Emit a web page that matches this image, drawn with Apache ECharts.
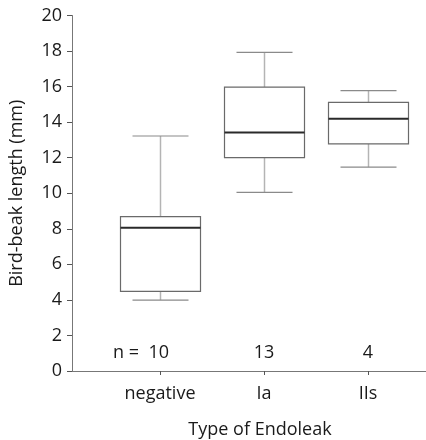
<!DOCTYPE html>
<html>
<head>
<meta charset="utf-8">
<script src="https://cdn.jsdelivr.net/npm/echarts@6/dist/echarts.min.js"></script>
<style>
  html, body { margin: 0; padding: 0; background: #fff; }
  #main { width: 426px; height: 440px; }
</style>
</head>
<body>
<div id="main"></div>
<script>
// 数据：每组的五数概括
var categories = ['negative', 'Ia', 'IIs']
var counts = [10, 13, 4]
var mins = [3.99, 10.05, 11.47]
var q1s = [4.48, 12.0, 12.78]
var medians = [8.06, 13.42, 14.19]
var q3s = [8.68, 15.97, 15.11]
var maxs = [13.22, 17.92, 15.77]
var yTicks = [0, 20, 2] // min, max, interval

var font = 'Open Sans'

// 组织 custom series 数据 [x, min, q1, median, q3, max]
var boxData = []
var nData = []
for (var i = 0; i < categories.length; i++) {
  boxData.push([i + 1, mins[i], q1s[i], medians[i], q3s[i], maxs[i]])
  nData.push({
    value: [i + 1, 1],
    label: i === 0 ? { formatter: 'n =  ' + counts[i], align: 'right', offset: [9, 0] } : { formatter: String(counts[i]) }
  })
}

var myChart = echarts.init(document.getElementById('main'))

var option = {
  animation: false,
  backgroundColor: '#fff',
  textStyle: { fontFamily: font },
  grid: { left: 72, right: 0, top: 15.5, bottom: 69, outerBoundsMode: 'none', containLabel: false },
  xAxis: {
    type: 'value',
    min: 1 - 88 / 104,
    max: 1 + 266 / 104,
    name: 'Type of Endoleak',
    nameLocation: 'middle',
    nameGap: 50,
    nameTextStyle: { fontSize: 18, color: '#1a1a1a', fontFamily: font, padding: [0, 0, 0, 22] },
    splitLine: { show: false },
    axisLine: { lineStyle: { color: '#777', width: 1 } },
    axisTick: { customValues: [1, 2, 3], length: 4, lineStyle: { color: '#555' } },
    axisLabel: {
      customValues: [1, 2, 3],
      margin: 14,
      fontSize: 18,
      color: '#1a1a1a',
      fontFamily: font,
      formatter: function (v) { return categories[Math.round(v) - 1] || '' }
    }
  },
  yAxis: {
    type: 'value',
    min: yTicks[0],
    max: yTicks[1],
    interval: yTicks[2],
    name: 'Bird-beak length (mm)',
    nameLocation: 'middle',
    nameGap: 46,
    nameTextStyle: { fontSize: 18, color: '#1a1a1a', fontFamily: font },
    splitLine: { show: false },
    axisLine: { show: true, lineStyle: { color: '#777', width: 1 } },
    axisTick: { show: true, length: 5, lineStyle: { color: '#555' } },
    axisLabel: { margin: 10, fontSize: 18, color: '#1a1a1a', fontFamily: font }
  },
  series: [
    {
      type: 'custom',
      encode: { x: 0, y: [1, 2, 3, 4, 5] },
      data: boxData,
      renderItem: function (params, api) {
        var x = api.value(0)
        var pMin = api.coord([x, api.value(1)])
        var pQ1 = api.coord([x, api.value(2)])
        var pMed = api.coord([x, api.value(3)])
        var pQ3 = api.coord([x, api.value(4)])
        var pMax = api.coord([x, api.value(5)])
        var cx = Math.round(pMed[0]) + 0.5
        var bw = 80
        var cw = 56
        return {
          type: 'group',
          children: [
            { type: 'line', shape: { x1: cx, y1: pQ3[1], x2: cx, y2: pMax[1] }, style: { stroke: '#b4b4b4', lineWidth: 1.5 } },
            { type: 'line', shape: { x1: cx, y1: pQ1[1], x2: cx, y2: pMin[1] }, style: { stroke: '#b4b4b4', lineWidth: 1.5 } },
            { type: 'line', shape: { x1: cx - cw / 2, y1: pMax[1], x2: cx + cw / 2, y2: pMax[1] }, style: { stroke: '#8a8a8a', lineWidth: 1.2 } },
            { type: 'line', shape: { x1: cx - cw / 2, y1: pMin[1], x2: cx + cw / 2, y2: pMin[1] }, style: { stroke: '#8a8a8a', lineWidth: 1.2 } },
            {
              type: 'rect',
              shape: { x: cx - bw / 2, y: pQ3[1], width: bw, height: pQ1[1] - pQ3[1] },
              style: { fill: '#fff', stroke: '#6a6a6a', lineWidth: 1.2 }
            },
            { type: 'line', shape: { x1: cx - bw / 2, y1: pMed[1], x2: cx + bw / 2, y2: pMed[1] }, style: { stroke: '#2a2a2a', lineWidth: 2 } }
          ]
        }
      }
    },
    {
      // 样本数 n
      type: 'scatter',
      symbolSize: 0,
      itemStyle: { opacity: 1, color: '#1a1a1a' },
      data: nData,
      label: {
        show: true,
        position: 'inside',
        fontSize: 18,
        color: '#1a1a1a',
        fontFamily: font
      }
    }
  ]
}

myChart.setOption(option)
</script>
</body>
</html>
